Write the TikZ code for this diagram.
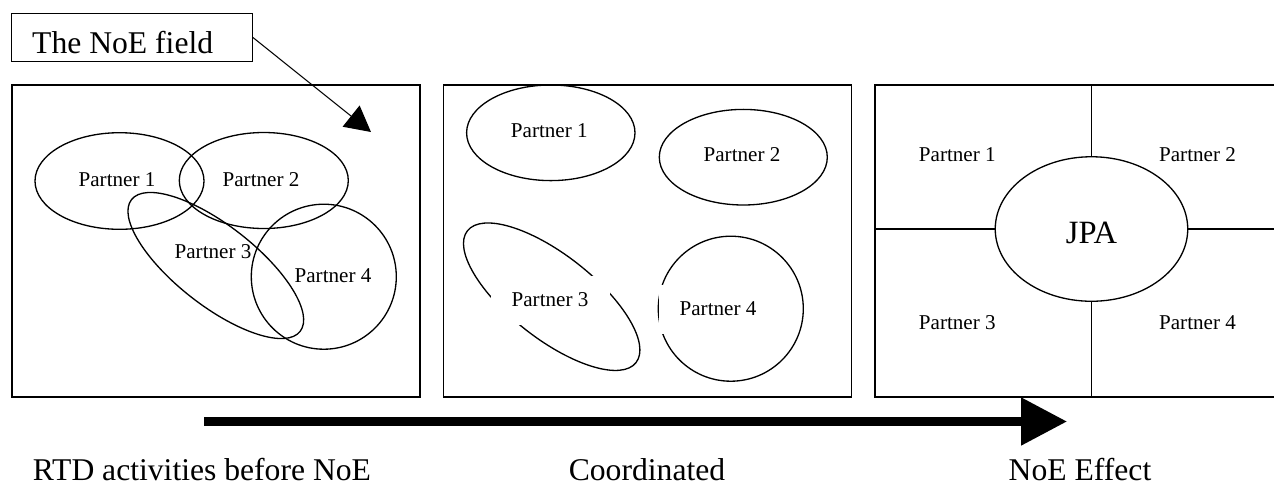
\documentclass[tikz,border=0pt]{standalone}
\usepackage{fontspec}
\setmainfont{Liberation Serif}
\usetikzlibrary{arrows.meta, shapes.geometric}

\begin{document}
\begin{tikzpicture}[
  x=0.2mm, y=-0.2mm,
  panel/.style={draw, line width=0.6pt},
  blob/.style={draw, line width=0.75pt},
  plabel/.style={font=\fontsize{12}{14}\selectfont, inner sep=0pt},
  pmask/.style={plabel, fill=white, minimum width=23.8mm, minimum height=9.8mm},
  fieldbox/.style={draw, line width=0.6pt, anchor=north west, align=flush left,
                   font=\fontsize{18}{21}\selectfont, inner xsep=4.14mm, inner ysep=0pt,
                   text width=39.9mm, text height=7.94mm, text depth=1.66mm},
  stage/.style={font=\fontsize{18}{21}\selectfont, anchor=base, inner sep=0pt},
  ptr/.style={-{Triangle[length=5.1mm, width=5.4mm]}, line width=0.6pt},
  flow/.style={-{Triangle[length=9.2mm, width=9.2mm]}, line width=4.8pt}
]
\clip (0,0) rectangle (1274,485);

% label and its pointer
\node[fieldbox] (field) at (11,13) {The NoE field};
\coordinate (fieldtip) at (371,132);
\draw[ptr] (field.east) -- (fieldtip);

% panel 1: overlapping activities
\draw[panel] (12,85) rectangle (420,397);
\draw[blob] (119.5,181) ellipse [x radius=84.5, y radius=48.3];
\draw[blob] (263.8,180.5) ellipse [x radius=84.5, y radius=48];
\draw[blob, rotate around={-38:(215.8,265.5)}] (215.8,265.5) ellipse [x radius=107, y radius=40];
\draw[blob] (323.8,276.7) circle [radius=72.5];
\node[plabel] (a1) at (117,180) {Partner 1};
\node[plabel] (a2) at (261,180) {Partner 2};
\node[plabel] (a3) at (213,251.5) {Partner 3};
\node[plabel] (a4) at (333,276) {Partner 4};

% panel 2: coordinated
\draw[panel] (443.3,85) rectangle (851.7,397);
\draw[blob] (550.8,132.8) ellipse [x radius=84.2, y radius=47.8];
\draw[blob] (743.3,157.2) ellipse [x radius=84, y radius=47.8];
\draw[blob, rotate around={-38:(551.7,296.7)}] (551.7,296.7) ellipse [x radius=107, y radius=42];
\draw[blob] (730.8,308.7) circle [radius=72.5];
\node[pmask] (b1) at (549.3,131) {Partner 1};
\node[pmask] (b2) at (742,155) {Partner 2};
\node[pmask] (b3) at (550,300) {Partner 3};
\node[pmask] (b4) at (718,309) {Partner 4};

% panel 3: NoE effect
\coordinate (p3nw) at (875,85);
\coordinate (p3se) at (1290,397);
\draw[panel] (p3nw) rectangle (p3se);
\node[ellipse, blob, minimum width=38.5mm, minimum height=28.9mm, inner sep=0pt,
      font=\fontsize{18.5}{21}\selectfont, text height=17pt, text depth=0pt]
  (jpa) at (1091.5,229) {JPA};
\draw[panel] (jpa.north) -- (jpa.north |- p3nw);
\draw[panel] (jpa.south) -- (jpa.south |- p3se);
\draw[panel] (jpa.west) -- (jpa.west -| p3nw);
\draw[panel] (jpa.east) -- (jpa.east -| p3se);
\node[plabel] (c1) at (957.3,155) {Partner 1};
\node[plabel] (c2) at (1197.5,155) {Partner 2};
\node[plabel] (c3) at (957.3,323) {Partner 3};
\node[plabel] (c4) at (1197.5,323) {Partner 4};

% time line
\coordinate (flowstart) at (204,421.5);
\coordinate (flowend) at (1067,421.5);
\draw[flow] (flowstart) -- (flowend);
\node[stage] (rtd) at (202,480) {RTD activities before NoE};
\node[stage] (coord) at (647,480) {Coordinated};
\node[stage] (effect) at (1080,480) {NoE Effect};
\end{tikzpicture}
\end{document}
